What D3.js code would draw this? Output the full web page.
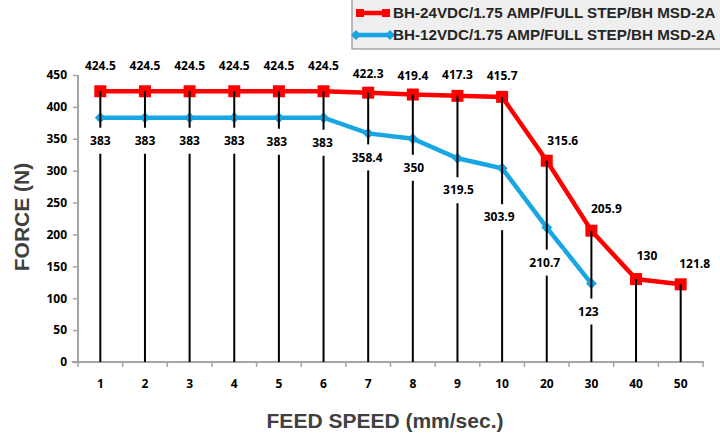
<!DOCTYPE html>
<html><head><meta charset="utf-8">
<script src="https://cdn.jsdelivr.net/npm/d3@7"></script>
<style>body{margin:0;background:#fff}svg{display:block}</style>
</head><body>
<svg id="c" width="720" height="436"></svg>
<script>
const categories = ["1","2","3","4","5","6","7","8","9","10","20","30","40","50"];
const red24 = [424.5,424.5,424.5,424.5,424.5,424.5,422.3,419.4,417.3,415.7,315.6,205.9,130,121.8];
const blue12 = [383,383,383,383,383,383,358.4,350,319.5,303.9,210.7,123];
const yTicks = [0,50,100,150,200,250,300,350,400,450];
const seriesNames = ["BH-24VDC/1.75 AMP/FULL STEP/BH MSD-2A","BH-12VDC/1.75 AMP/FULL STEP/BH MSD-2A"];
// label placement (layout only)
const redLabelDx = [0,0,0,0,0,0,0,0,0,0,16,15,11,14];
const redLabelDy = [-25,-25,-25,-25,-25,-25,-19,-19,-21,-21,-20,-22,-23,-21];
const blueLabelDy = [23,23,23,23,24,25,24,29,32,49,35,28];
const blueLabelDx = [0,0,0,0,-2,-1,-1,1,1,-3,-2,-3];

const RED = "#ff0000", BLUE = "#18a6e3";
const svg = d3.select("#c");
const x = d3.scaleBand().domain(categories).range([78, 703]).padding(0);
const y = d3.scaleLinear().domain([0, 450]).range([362, 75]);
const cx = c => x(c) + x.bandwidth() / 2;

// axes
const yAxis = svg.append("g").attr("transform", "translate(78,0)")
  .call(d3.axisLeft(y).tickValues(yTicks).tickSize(5).tickPadding(6));
yAxis.select(".domain").attr("stroke", "#a6a6a6").attr("stroke-width", 2).attr("d", "M0,75V362");
yAxis.selectAll(".tick line").attr("stroke", "#a6a6a6").attr("stroke-width", 1.5);
yAxis.selectAll("text").attr("font-family", "Open Sans").attr("font-weight", "bold").attr("font-size", 12).attr("fill", "#000");

const xAxis = svg.append("g").attr("transform", "translate(0,362)")
  .call(d3.axisBottom(x).tickSize(0).tickPadding(17));
xAxis.select(".domain").attr("stroke", "#a6a6a6").attr("stroke-width", 2).attr("d", "M72,0H704");
xAxis.selectAll("text").attr("font-family", "Open Sans").attr("font-weight", "bold").attr("font-size", 12).attr("fill", "#000");
// boundary ticks between categories
const bounds = categories.map(c => x(c)).concat([x.range()[1]]);
svg.append("g").selectAll("line").data(bounds).join("line")
  .attr("x1", d => d).attr("x2", d => d).attr("y1", 362).attr("y2", 367)
  .attr("stroke", "#a6a6a6").attr("stroke-width", 1.5);

// axis titles
svg.append("text").attr("transform", "translate(29,217) rotate(-90)").attr("text-anchor", "middle")
  .attr("font-family", "Liberation Sans").attr("font-weight", "bold").attr("font-size", 21).attr("fill", "#404040")
  .text("FORCE (N)");
svg.append("text").attr("x", 385).attr("y", 428).attr("text-anchor", "middle")
  .attr("font-family", "Liberation Sans").attr("font-weight", "bold").attr("font-size", 21).attr("fill", "#404040")
  .text("FEED SPEED (mm/sec.)");

// lines
const line = d3.line().x((d, i) => cx(categories[i])).y(d => y(d));
svg.append("path").datum(blue12).attr("d", line).attr("fill", "none").attr("stroke", BLUE).attr("stroke-width", 4.5);
svg.append("g").selectAll("path").data(blue12).join("path")
  .attr("transform", (d, i) => `translate(${cx(categories[i])},${y(d)})`)
  .attr("d", "M0,-5.5L5.5,0L0,5.5L-5.5,0Z").attr("fill", BLUE);
svg.append("path").datum(red24).attr("d", line).attr("fill", "none").attr("stroke", RED).attr("stroke-width", 4.5);
svg.append("g").selectAll("rect").data(red24).join("rect")
  .attr("x", (d, i) => cx(categories[i]) - 6).attr("y", d => y(d) - 6)
  .attr("width", 12).attr("height", 12).attr("fill", RED);

// drop lines
svg.append("g").selectAll("line").data(red24).join("line")
  .attr("x1", (d, i) => cx(categories[i])).attr("x2", (d, i) => cx(categories[i]))
  .attr("y1", d => y(d)).attr("y2", y(0)).attr("stroke", "#000").attr("stroke-width", 2);

// labels
const fmt = v => String(v);
const red = svg.append("g");
red.selectAll("text").data(red24).join("text")
  .attr("x", (d, i) => cx(categories[i]) + redLabelDx[i]).attr("y", (d, i) => y(d) + redLabelDy[i])
  .attr("dy", "0.35em").attr("text-anchor", "middle")
  .attr("font-family", "Open Sans").attr("font-weight", "bold").attr("font-size", 12).attr("fill", "#000")
  .text(fmt);
const blue = svg.append("g");
const bg = blue.selectAll("g").data(blue12).join("g")
  .attr("transform", (d, i) => `translate(${cx(categories[i]) + blueLabelDx[i]},${y(d) + blueLabelDy[i]})`);
bg.append("rect").attr("x", d => -(fmt(d).length * 6.6) / 2 - 1).attr("y", -13)
  .attr("width", d => fmt(d).length * 6.6 + 2).attr("height", 26).attr("fill", "#fff");
bg.append("text").attr("dy", "0.35em").attr("text-anchor", "middle")
  .attr("font-family", "Open Sans").attr("font-weight", "bold").attr("font-size", 12).attr("fill", "#000")
  .text(fmt);

// legend
const lg = svg.append("g");
lg.append("rect").attr("x", 352).attr("y", -2).attr("width", 380).attr("height", 51)
  .attr("fill", "#efefef").attr("stroke", "#7f7f7f").attr("stroke-width", 1);
lg.append("line").attr("x1", 356).attr("x2", 390).attr("y1", 13).attr("y2", 13).attr("stroke", RED).attr("stroke-width", 4.5);
lg.append("rect").attr("x", 356).attr("y", 9).attr("width", 8).attr("height", 8).attr("fill", RED);
lg.append("rect").attr("x", 382).attr("y", 9).attr("width", 8).attr("height", 8).attr("fill", RED);
lg.append("line").attr("x1", 356).attr("x2", 390).attr("y1", 35).attr("y2", 35).attr("stroke", BLUE).attr("stroke-width", 4.5);
[356, 390].forEach(px => lg.append("path").attr("transform", `translate(${px},35)`)
  .attr("d", "M0,-5L5,0L0,5L-5,0Z").attr("fill", BLUE));
lg.selectAll("text.l").data(seriesNames).join("text").attr("class", "l")
  .attr("x", 393).attr("y", (d, i) => 13 + i * 22).attr("dy", "0.36em")
  .attr("font-family", "Liberation Sans").attr("font-weight", "bold").attr("font-size", 15.2).attr("fill", "#262626")
  .text(d => d);
</script>
</body></html>
